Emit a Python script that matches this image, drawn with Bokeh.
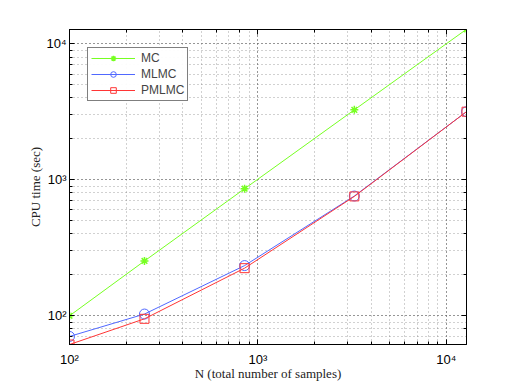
import numpy as np
from bokeh.plotting import figure
from bokeh.models import LogAxis, Legend, LegendItem, CustomJSTickFormatter, Range1d
from bokeh.embed import file_html
from bokeh.resources import INLINE

# data
n_samples = [100, 250, 850, 3250, 12800]
mc_time = [100, 253, 860, 3270, 12800]
mlmc_time = [70.5, 103, 234, 760, 3170]
pmlmc_time = [61.5, 95, 224, 755, 3170]

x_range = (100, 12800)
y_range = (61.5, 12750)

green = "#77ff22"
blue = "#5068ff"
red = "#ff3535"

p = figure(x_axis_type="log", y_axis_type="log", output_backend="svg",
           toolbar_location=None, frame_width=397, frame_height=315,
           x_range=Range1d(*x_range), y_range=Range1d(*y_range),
           min_border_left=69, min_border_top=29, min_border_right=40, min_border_bottom=38,
           background_fill_color="white", border_fill_color="white")
p.outline_line_color = "black"
p.outline_line_width = 1

sup = CustomJSTickFormatter(code="""
const e = Math.round(Math.log10(tick));
const m = {'0':'\\u2070','1':'\\u00b9','2':'\\u00b2','3':'\\u00b3','4':'\\u2074','5':'\\u2075'};
return '10' + String(e).split('').map(c => m[c] || c).join('');
""")

for ax in (p.xaxis[0], p.yaxis[0]):
    ax.formatter = sup
    ax.major_label_text_font = "Liberation Sans"
    ax.major_label_text_font_size = "13px"
    ax.major_label_text_color = "black"
    ax.axis_line_color = "black"
    ax.major_tick_in = 5
    ax.major_tick_out = 0
    ax.minor_tick_in = 3
    ax.minor_tick_out = 0
    ax.axis_label_text_font = "Liberation Serif"
    ax.axis_label_text_font_size = "13px"
    ax.axis_label_text_font_style = "normal"
    ax.axis_label_text_color = "#222222"

p.xaxis[0].axis_label = "N (total number of samples)"
p.yaxis[0].axis_label = "CPU time (sec)"
p.xaxis[0].major_label_standoff = 7
p.yaxis[0].major_label_standoff = 3
p.xaxis[0].axis_label_standoff = -4
p.yaxis[0].axis_label_standoff = 0

for loc in ("above", "right"):
    ax = LogAxis(major_label_text_font_size="1px", major_label_text_alpha=0.0,
                 major_tick_in=5, major_tick_out=0,
                 minor_tick_in=3, minor_tick_out=0, axis_line_color="black",
                 major_label_standoff=0)
    p.add_layout(ax, loc)

for g in (p.xgrid[0], p.ygrid[0]):
    g.grid_line_color = "#666666"
    g.grid_line_dash = "1 3"
    g.grid_line_alpha = 0.7
    g.minor_grid_line_color = "#666666"
    g.minor_grid_line_dash = "1 3"
    g.minor_grid_line_alpha = 0.6

l1 = p.line(n_samples, mc_time, line_color=green, line_width=1)
m1 = p.scatter(n_samples, mc_time, marker="asterisk", size=8, line_color=green, line_width=1.5)
l2 = p.line(n_samples, mlmc_time, line_color=blue, line_width=1)
m2 = p.scatter(n_samples, mlmc_time, marker="circle", size=10, line_color=blue, fill_color=None, line_width=1)
l3 = p.line(n_samples, pmlmc_time, line_color=red, line_width=1)
m3 = p.scatter(n_samples, pmlmc_time, marker="square", size=9, line_color=red, fill_color=None, line_width=1)

legend = Legend(items=[LegendItem(label="MC", renderers=[l1, m1]),
                       LegendItem(label="MLMC", renderers=[l2, m2]),
                       LegendItem(label="PMLMC", renderers=[l3, m3])],
                location=(18, 243))
legend.label_text_font = "Liberation Sans"
legend.label_text_font_size = "12px"
legend.border_line_color = "black"
legend.border_line_width = 1
legend.glyph_width = 44
legend.glyph_height = 14
legend.label_height = 14
legend.spacing = 2
legend.padding = 3
legend.margin = 0
legend.label_standoff = 6
p.add_layout(legend)

open("out.html", "w").write(file_html(p, INLINE))
